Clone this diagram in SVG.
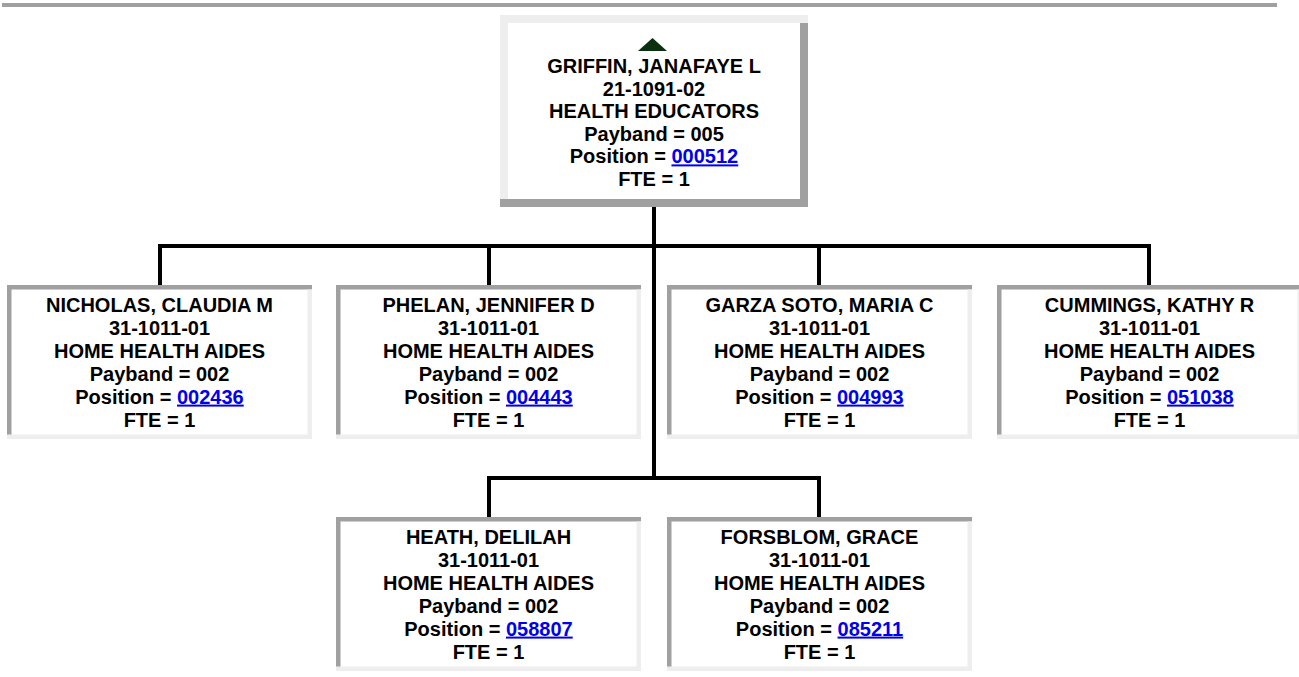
<svg xmlns="http://www.w3.org/2000/svg" width="1299" height="677" viewBox="0 0 1299 677">
<style>
.t{font-family:"Liberation Sans",Arial,sans-serif;font-weight:bold;font-size:20px;fill:#000;text-anchor:middle}
.lk{fill:#0000ee;text-decoration:underline}
.dk{fill:#a0a0a0}
.lt{fill:#eeeeee}
.conn{stroke:#000;stroke-width:4;fill:none;stroke-linecap:square}
</style>
<rect width="1299" height="677" fill="#fff"/>
<rect x="2" y="3" width="1275" height="4" class="dk"/>
<g id="connectors">
<path class="conn" d="M654 207V478M160 246H1149M160 246V284M489 246V284M819 246V284M1149 246V284M489 478H819M489 478V516M819 478V516"/>
</g>
<g id="node-griffin">
<rect x="500" y="15" width="308" height="192" fill="#fff"/>
<rect x="500" y="15" width="308" height="8" class="lt"/>
<rect x="500" y="15" width="8" height="185" class="lt"/>
<rect x="800" y="23" width="8" height="184" class="dk"/>
<rect x="500" y="199" width="308" height="8" class="dk"/>
<polygon points="638,51 667,51 652.5,38" fill="#0a3010"/>
<text class="t"><tspan x="654" y="73">GRIFFIN, JANAFAYE L</tspan><tspan x="654" y="95.6">21-1091-02</tspan><tspan x="654" y="118.2">HEALTH EDUCATORS</tspan><tspan x="654" y="140.8">Payband = 005</tspan><tspan x="654" y="163.4">Position = <tspan class="lk">000512</tspan></tspan><tspan x="654" y="186">FTE = 1</tspan></text>
</g>
<g id="node-nicholas">
<rect x="7" y="285" width="305" height="154" fill="#fff"/>
<rect x="7" y="285" width="305" height="4.5" class="dk"/>
<rect x="7" y="285" width="4.5" height="150" class="dk"/>
<rect x="307.5" y="289.5" width="4.5" height="149.5" class="lt"/>
<rect x="7" y="434.5" width="305" height="4.5" class="lt"/>
<text class="t"><tspan x="159.5" y="312">NICHOLAS, CLAUDIA M</tspan><tspan x="159.5" y="334.9">31-1011-01</tspan><tspan x="159.5" y="357.8">HOME HEALTH AIDES</tspan><tspan x="159.5" y="380.7">Payband = 002</tspan><tspan x="159.5" y="403.6">Position = <tspan class="lk">002436</tspan></tspan><tspan x="159.5" y="426.5">FTE = 1</tspan></text>
</g>
<g id="node-phelan">
<rect x="336" y="285" width="305" height="154" fill="#fff"/>
<rect x="336" y="285" width="305" height="4.5" class="dk"/>
<rect x="336" y="285" width="4.5" height="150" class="dk"/>
<rect x="636.5" y="289.5" width="4.5" height="149.5" class="lt"/>
<rect x="336" y="434.5" width="305" height="4.5" class="lt"/>
<text class="t"><tspan x="488.5" y="312">PHELAN, JENNIFER D</tspan><tspan x="488.5" y="334.9">31-1011-01</tspan><tspan x="488.5" y="357.8">HOME HEALTH AIDES</tspan><tspan x="488.5" y="380.7">Payband = 002</tspan><tspan x="488.5" y="403.6">Position = <tspan class="lk">004443</tspan></tspan><tspan x="488.5" y="426.5">FTE = 1</tspan></text>
</g>
<g id="node-garza">
<rect x="667" y="285" width="305" height="154" fill="#fff"/>
<rect x="667" y="285" width="305" height="4.5" class="dk"/>
<rect x="667" y="285" width="4.5" height="150" class="dk"/>
<rect x="967.5" y="289.5" width="4.5" height="149.5" class="lt"/>
<rect x="667" y="434.5" width="305" height="4.5" class="lt"/>
<text class="t"><tspan x="819.5" y="312">GARZA SOTO, MARIA C</tspan><tspan x="819.5" y="334.9">31-1011-01</tspan><tspan x="819.5" y="357.8">HOME HEALTH AIDES</tspan><tspan x="819.5" y="380.7">Payband = 002</tspan><tspan x="819.5" y="403.6">Position = <tspan class="lk">004993</tspan></tspan><tspan x="819.5" y="426.5">FTE = 1</tspan></text>
</g>
<g id="node-cummings">
<rect x="997" y="285" width="305" height="154" fill="#fff"/>
<rect x="997" y="285" width="305" height="4.5" class="dk"/>
<rect x="997" y="285" width="4.5" height="150" class="dk"/>
<rect x="1297.5" y="289.5" width="4.5" height="149.5" class="lt"/>
<rect x="997" y="434.5" width="305" height="4.5" class="lt"/>
<text class="t"><tspan x="1149.5" y="312">CUMMINGS, KATHY R</tspan><tspan x="1149.5" y="334.9">31-1011-01</tspan><tspan x="1149.5" y="357.8">HOME HEALTH AIDES</tspan><tspan x="1149.5" y="380.7">Payband = 002</tspan><tspan x="1149.5" y="403.6">Position = <tspan class="lk">051038</tspan></tspan><tspan x="1149.5" y="426.5">FTE = 1</tspan></text>
</g>
<g id="node-heath">
<rect x="336" y="517" width="305" height="154" fill="#fff"/>
<rect x="336" y="517" width="305" height="4.5" class="dk"/>
<rect x="336" y="517" width="4.5" height="150" class="dk"/>
<rect x="636.5" y="521.5" width="4.5" height="149.5" class="lt"/>
<rect x="336" y="666.5" width="305" height="4.5" class="lt"/>
<text class="t"><tspan x="488.5" y="544">HEATH, DELILAH</tspan><tspan x="488.5" y="566.9">31-1011-01</tspan><tspan x="488.5" y="589.8">HOME HEALTH AIDES</tspan><tspan x="488.5" y="612.7">Payband = 002</tspan><tspan x="488.5" y="635.6">Position = <tspan class="lk">058807</tspan></tspan><tspan x="488.5" y="658.5">FTE = 1</tspan></text>
</g>
<g id="node-forsblom">
<rect x="667" y="517" width="305" height="154" fill="#fff"/>
<rect x="667" y="517" width="305" height="4.5" class="dk"/>
<rect x="667" y="517" width="4.5" height="150" class="dk"/>
<rect x="967.5" y="521.5" width="4.5" height="149.5" class="lt"/>
<rect x="667" y="666.5" width="305" height="4.5" class="lt"/>
<text class="t"><tspan x="819.5" y="544">FORSBLOM, GRACE</tspan><tspan x="819.5" y="566.9">31-1011-01</tspan><tspan x="819.5" y="589.8">HOME HEALTH AIDES</tspan><tspan x="819.5" y="612.7">Payband = 002</tspan><tspan x="819.5" y="635.6">Position = <tspan class="lk">085211</tspan></tspan><tspan x="819.5" y="658.5">FTE = 1</tspan></text>
</g>
</svg>
